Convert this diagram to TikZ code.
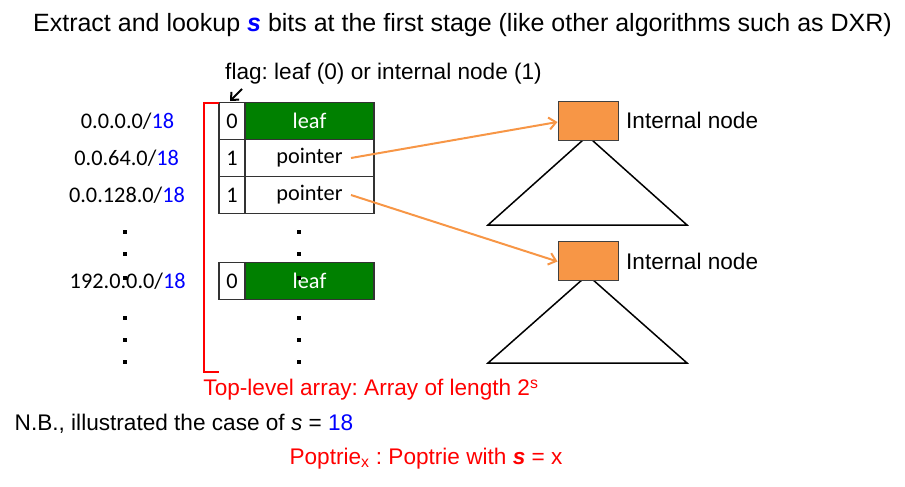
\documentclass[tikz,border=0pt]{standalone}
\usepackage{fontspec}
\setmainfont{Liberation Sans}
\newfontfamily\calfont{Carlito}
\usetikzlibrary{arrows.meta}
\definecolor{leafgreen}{RGB}{0,128,0}
\definecolor{inorange}{RGB}{247,150,70}
\definecolor{addrblue}{RGB}{0,0,255}
\definecolor{txtred}{RGB}{255,0,0}
\frenchspacing
\tikzset{
  cell/.style={draw=black!80, line width=1.2pt, inner sep=0pt, font=\calfont\fontsize{22.3}{26}\selectfont},
  flagcell/.style={cell, minimum width=26pt, minimum height=37pt},
  datacell/.style={cell, minimum width=129pt, minimum height=37pt},
  leafcell/.style={datacell, fill=leafgreen, text=white},
  inode/.style={draw=black!75, fill=inorange, line width=1pt, minimum width=60pt, minimum height=39pt, inner sep=0pt},
  ptr/.style={draw=inorange, line width=2pt, -{Straight Barb[length=7pt,width=12pt]}},
  tri/.style={draw=black, line width=1.5pt},
  addr/.style={inner sep=0pt, font=\calfont\fontsize{22.3}{26}\selectfont},
  lbl/.style={inner sep=0pt, font=\fontsize{22.6}{26}\selectfont},
  dotsq/.style={fill=black}
}
\begin{document}
\begin{tikzpicture}[x=1pt,y=-1pt]
\useasboundingbox (0,0) rectangle (905,487);
% title
\node[inner sep=0pt, font=\fontsize{25}{30}\selectfont] (title) at (462.5,25)
  {Extract and lookup \textcolor{addrblue}{\textbf{\textit{s}}} bits at the first stage (like other algorithms such as DXR)};
\node[lbl] (flaglbl) at (383.5,74) {flag: leaf (0) or internal node (1)};
% table
\node[flagcell] (f1) at (232,121) {0};
\node[leafcell] (d1) at (309.5,121) {leaf};
\node[flagcell] (f2) at (232,158) {1};
\node[datacell] (d2) at (309.5,158) {pointer};
\node[flagcell] (f3) at (232,195) {1};
\node[datacell] (d3) at (309.5,195) {pointer};
\node[flagcell] (f4) at (232,281) {0};
\node[leafcell] (d4) at (309.5,281) {leaf};
% addresses
\node[addr] (a1) at (127.5,121) {0.0.0.0/\textcolor{addrblue}{18}};
\node[addr] (a2) at (126.7,158) {0.0.64.0/\textcolor{addrblue}{18}};
\node[addr] (a3) at (127,195) {0.0.128.0/\textcolor{addrblue}{18}};
\node[addr] (a4) at (127.7,281) {192.0.0.0/\textcolor{addrblue}{18}};
% dots
\foreach \yy in {232,254,278,318,340,362}{
  \fill[dotsq] (123,\yy-2) rectangle (127,\yy+2);
  \fill[dotsq] (297,\yy-2) rectangle (301,\yy+2);
}
% red bracket
\coordinate (bt) at (219,103);
\coordinate (bb) at (219,372);
\draw[txtred, line width=2pt] (bt) -- (204,103) -- (204,372) -- (bb);
% flag arrow
\coordinate (fa) at (242,89);
\coordinate (fh) at (230,101);
\draw[line width=2pt, -{Straight Barb[length=6pt,width=11pt]}] (fa) -- (fh);
% triangles
\coordinate (ap1) at (587.5,136);
\coordinate (bl1) at (488,225);
\coordinate (br1) at (687,225);
\coordinate (ap2) at (587.5,275);
\coordinate (bl2) at (488,363);
\coordinate (br2) at (687,363);
\draw[tri] (ap1) -- (bl1) -- (br1) -- cycle;
\draw[tri] (ap2) -- (bl2) -- (br2) -- cycle;
% internal nodes
\node[inode] (in1) at (588,120.5) {};
\node[inode] (in2) at (588,260.5) {};
\node[lbl, anchor=west] (il1) at (626,120) {Internal node};
\node[lbl, anchor=west] (il2) at (626,261) {Internal node};
% pointers
\coordinate (p1) at (351,158);
\coordinate (p2) at (351,195);
\draw[ptr] (p1) -- ([yshift=-1.5pt]in1.west);
\draw[ptr] (p2) -- ([yshift=-1pt]in2.west);
% bottom texts
\node[lbl, text=txtred] (toplvl) at (371,390) {Top-level array: Array of length 2\textsuperscript{s}};
\node[lbl] (nb) at (184,424) {N.B., illustrated the case of \textit{s} = \textcolor{addrblue}{18}};
\node[lbl, text=txtred] (pop) at (426,459) {Poptrie\textsubscript{x} : Poptrie with \textbf{\textit{s}} = x};
\end{tikzpicture}
\end{document}
